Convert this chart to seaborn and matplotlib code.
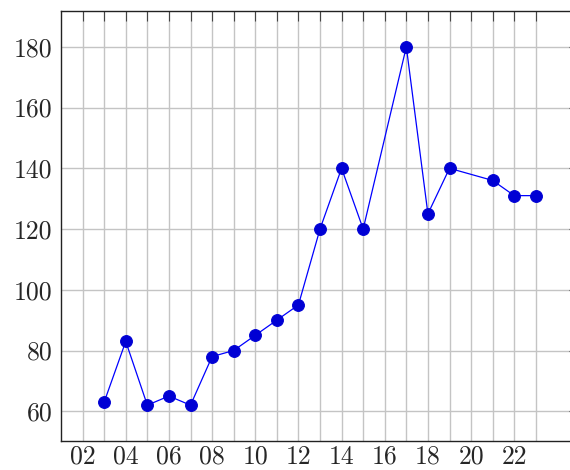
import matplotlib
matplotlib.use("Agg")
import matplotlib.pyplot as plt
import seaborn as sns
import pandas as pd

years = [3, 4, 5, 6, 7, 8, 9, 10, 11, 12, 13, 14, 15, 17, 18, 19, 21, 22, 23]
values = [63, 83, 62, 65, 62, 78, 80, 85, 90, 95, 120, 140, 120, 180, 125, 140, 136, 131, 131]
x_ticks = list(range(2, 24))
x_tick_labels = [f"{t:02d}" if t % 2 == 0 else "" for t in x_ticks]
y_ticks = [60, 80, 100, 120, 140, 160, 180]

sns.set_style("white")
plt.rcParams['font.family'] = ['cmr10', 'DejaVu Serif']
plt.rcParams['axes.formatter.use_mathtext'] = True

df = pd.DataFrame({"year": years, "value": values})

fig = plt.figure(figsize=(5.7, 4.7), dpi=100)
ax = fig.add_axes([61/570, (470-441)/470, (579-61)/570, 430/470])

sns.lineplot(data=df, x="year", y="value", ax=ax, color=(0, 0, 1), linewidth=0.9,
             marker="o", markersize=8.5, markerfacecolor="#0000d4",
             markeredgecolor="#0000d4", zorder=3)

ax.set_xlim(1, 25)
ax.set_ylim(50.2, 191.8)
ax.set_xticks(x_ticks)
ax.set_xticklabels(x_tick_labels)
ax.set_yticks(y_ticks)
ax.set_yticklabels([str(v) for v in y_ticks])
ax.set_xlabel("")
ax.set_ylabel("")
ax.set_axisbelow(True)
ax.grid(True, color="#c4c4c4", linewidth=1.0)
ax.tick_params(direction="in", length=7, width=0.8, color="#444444",
               top=True, right=True, labelsize=18.5)
ax.tick_params(axis="x", pad=3)
ax.tick_params(axis="y", pad=6)
for s in ax.spines.values():
    s.set_color("#222222")
    s.set_linewidth(1.0)

fig.savefig("out.png", dpi=100)
